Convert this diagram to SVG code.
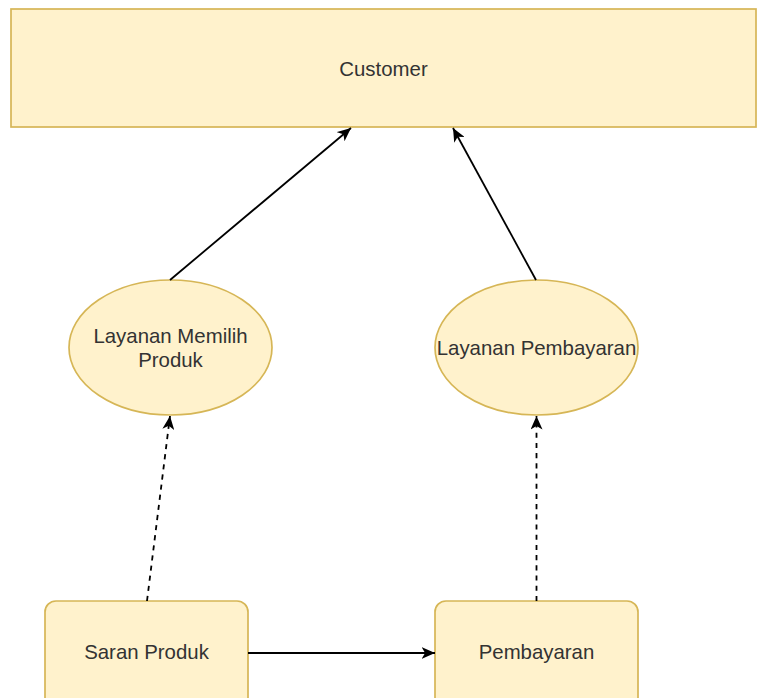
<svg xmlns="http://www.w3.org/2000/svg" width="760" height="698" viewBox="0 0 760 698">
  <style>
    .box { fill: #fff2cc; stroke: #d6b656; stroke-width: 1.7; }
    .label { font-family: "Liberation Sans", Arial, sans-serif; font-size: 20.4px; fill: #333333; text-anchor: middle; }
    .edge { fill: none; stroke: #000000; stroke-width: 1.8; marker-end: url(#arrow); }
    .dashed { stroke-dasharray: 5.1 5.1; }
  </style>
  <defs>
    <marker id="arrow" markerUnits="userSpaceOnUse" viewBox="0 0 14 12" markerWidth="14" markerHeight="12" refX="13.5" refY="6" orient="auto">
      <path d="M0,0 L13.5,6 L0,12 L3.6,6 Z" fill="#000000"/>
    </marker>
  </defs>
  <rect width="760" height="698" fill="#ffffff"/>

  <g id="customer">
    <rect class="box" x="11" y="9" width="745" height="118"/>
    <text class="label" x="383.5" y="76">Customer</text>
  </g>

  <g id="layanan-memilih-produk">
    <ellipse class="box" cx="170.5" cy="347.5" rx="101.5" ry="67.5"/>
    <text class="label" x="170.5" y="343">Layanan Memilih</text>
    <text class="label" x="170.5" y="367">Produk</text>
  </g>

  <g id="layanan-pembayaran">
    <ellipse class="box" cx="536.5" cy="347.5" rx="101.5" ry="67.5"/>
    <text class="label" x="536.5" y="355">Layanan Pembayaran</text>
  </g>

  <g id="saran-produk">
    <rect class="box" x="45" y="601" width="203" height="110" rx="11" ry="11"/>
    <text class="label" x="146.5" y="659">Saran Produk</text>
  </g>

  <g id="pembayaran">
    <rect class="box" x="435" y="601" width="203" height="110" rx="11" ry="11"/>
    <text class="label" x="536.5" y="659">Pembayaran</text>
  </g>

  <g id="connectors">
    <line class="edge" x1="170" y1="280" x2="351" y2="128"/>
    <line class="edge" x1="536" y1="280" x2="453" y2="128"/>
    <line class="edge dashed" x1="147" y1="601" x2="170" y2="416"/>
    <line class="edge dashed" x1="536.5" y1="601" x2="536.5" y2="416"/>
    <line class="edge" x1="248" y1="653" x2="435" y2="653"/>
  </g>
</svg>
